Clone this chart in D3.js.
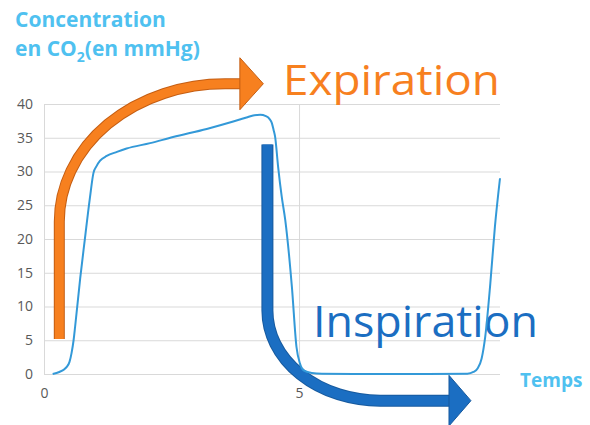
<!DOCTYPE html>
<html>
<head>
<meta charset="utf-8">
<script src="https://cdn.jsdelivr.net/npm/d3@7"></script>
<style>
  html, body { margin: 0; padding: 0; background: #ffffff; }
  svg { display: block; }
</style>
</head>
<body>
<svg id="chart" width="590" height="425"></svg>
<script>
// ---------- data ----------
const time = [0.17, 0.30, 0.40, 0.45, 0.50, 0.54, 0.58, 0.61, 0.71, 0.80, 0.90, 0.97, 1.03, 1.10, 1.23, 1.43, 1.62, 2.08, 2.53, 3.19, 3.71, 3.97, 4.10, 4.24, 4.35, 4.42, 4.46, 4.50, 4.53, 4.59, 4.66, 4.73, 4.86, 4.95, 5.02, 5.10, 5.25, 5.45, 6.50, 7.50, 8.30, 8.42, 8.50, 8.58, 8.65, 8.75, 8.84, 8.94];
const co2  = [0.0, 0.3, 0.7, 1.1, 1.8, 3.1, 5.0, 7.0, 14.2, 19.9, 26.1, 29.8, 30.8, 31.6, 32.3, 32.9, 33.4, 34.2, 35.1, 36.3, 37.4, 38.0, 38.3, 38.4, 38.2, 37.8, 37.3, 36.2, 35.2, 30.7, 26.3, 22.8, 12.9, 4.0, 1.5, 0.5, 0.15, 0.05, 0.0, 0.0, 0.05, 0.3, 0.8, 2.3, 5.5, 13.4, 21.8, 29.0];
const yTicks = [0, 5, 10, 15, 20, 25, 30, 35, 40];
const xTicks = [0, 5];
const xMax = 8.94;
const yMax = 40;

// annotation labels
const titleLine1 = "Concentration";
const titleLine2a = "en CO";
const titleSub = "2";
const titleLine2b = "(en mmHg)";
const xLabel = "Temps";
const expLabel = "Expiration";
const inspLabel = "Inspiration";

// ---------- layout ----------
const svg = d3.select("#chart");
const mLeft = 44, mRight = 500, mTop = 104, mBottom = 374;
const x = d3.scaleLinear().domain([0, xMax]).range([mLeft, mRight]);
const y = d3.scaleLinear().domain([0, yMax]).range([mBottom, mTop]);

const gridColor = "#d9d9d9";
const tickColor = "#595959";
const lineColor = "#3399d8";
const orange = "#f7801f", orangeDark = "#c45d12";
const blue = "#1b6ec2", blueDark = "#175a9e";
const lightBlue = "#4fc1f0";

// gridlines
const gy = svg.append("g").attr("transform", `translate(${mLeft},0)`)
  .call(d3.axisLeft(y).tickValues(yTicks).tickSize(-(mRight - mLeft)).tickFormat(""));
gy.select(".domain").remove();
gy.selectAll("line").attr("stroke", gridColor).attr("stroke-width", 1);

const gx = svg.append("g").attr("transform", `translate(0,${mBottom})`)
  .call(d3.axisBottom(x).tickValues(xTicks).tickSize(-(mBottom - mTop)).tickFormat(""));
gx.select(".domain").remove();
gx.selectAll("line").attr("stroke", gridColor).attr("stroke-width", 1);

// axis labels
const ay = svg.append("g").attr("transform", `translate(${mLeft},0)`)
  .call(d3.axisLeft(y).tickValues(yTicks).tickSize(0).tickPadding(11));
ay.select(".domain").remove();
ay.selectAll("text").attr("fill", tickColor).style("font-family", "'Open Sans', sans-serif").style("font-size", "14px");

const ax = svg.append("g").attr("transform", `translate(0,${mBottom})`)
  .call(d3.axisBottom(x).tickValues(xTicks).tickSize(0).tickPadding(14));
ax.select(".domain").remove();
ax.selectAll("text").attr("fill", tickColor).style("font-family", "'Open Sans', sans-serif").style("font-size", "14px");

// title
const title = svg.append("text").attr("fill", lightBlue)
  .style("font-family", "'Open Sans', sans-serif").style("font-weight", 700).style("font-size", "21px");
title.append("tspan").attr("x", 15).attr("y", 27).text(titleLine1);
const l2 = title.append("tspan").attr("x", 15).attr("y", 56);
l2.text(titleLine2a);
title.append("tspan").attr("dy", 6).style("font-size", "14px").text(titleSub);
title.append("tspan").attr("dy", -6).text(titleLine2b);

svg.append("text").attr("x", 520).attr("y", 387).attr("fill", lightBlue)
  .style("font-family", "'Open Sans', sans-serif").style("font-weight", 700).style("font-size", "19px")
  .text(xLabel);

// big labels
svg.append("text").attr("x", 283).attr("y", 95).attr("fill", orange)
  .attr("textLength", 217).attr("lengthAdjust", "spacingAndGlyphs")
  .style("font-family", "'Open Sans', sans-serif").style("font-size", "42px")
  .text(expLabel);
svg.append("text").attr("x", 313).attr("y", 337).attr("fill", blue)
  .attr("textLength", 225).attr("lengthAdjust", "spacingAndGlyphs")
  .style("font-family", "'Open Sans', sans-serif").style("font-size", "43px")
  .text(inspLabel);

// ---------- arrows (defined in data units) ----------
function drawArrow(spec, fill, stroke) {
  const x0 = x(spec.x0), yStart = y(spec.yStart), yBend = y(spec.yBend);
  const xc = x(spec.xc), yEnd = y(spec.yEnd), xBase = x(spec.xBase), xTip = x(spec.xTip);
  const rx = Math.abs(xc - x0), ry = Math.abs(yEnd - yBend);
  const hh = Math.abs(y(0) - y(spec.headHalf));
  const d = `M${x0},${yStart} L${x0},${yBend} A${rx},${ry} 0 0 ${spec.sweep} ${xc},${yEnd} L${xBase + 2},${yEnd}`;
  svg.append("path").attr("d", d).attr("fill", "none").attr("stroke", stroke).attr("stroke-width", spec.w + 2);
  svg.append("path").attr("d", d).attr("fill", "none").attr("stroke", fill).attr("stroke-width", spec.w);
  svg.append("path")
    .attr("d", `M${xBase},${yEnd - hh} L${xTip},${yEnd} L${xBase},${yEnd + hh} Z`)
    .attr("fill", fill).attr("stroke", stroke).attr("stroke-width", 1).attr("stroke-linejoin", "miter");
}

const expArrow = { x0: 0.30, yStart: 5.2, yBend: 22.6, xc: 3.55, yEnd: 43.0, xBase: 3.84, xTip: 4.30, headHalf: 3.85, w: 9, sweep: 1 };
const inspArrow = { x0: 4.38, yStart: 34.0, yBend: 9.4, xc: 6.59, yEnd: -3.95, xBase: 7.94, xTip: 8.37, headHalf: 3.75, w: 10, sweep: 0 };

drawArrow(expArrow, orange, orangeDark);
drawArrow(inspArrow, blue, blueDark);

// ---------- data line ----------
const pts = time.map((t, i) => [t, co2[i]]);
svg.append("path").datum(pts)
  .attr("fill", "none").attr("stroke", lineColor).attr("stroke-width", 2)
  .attr("d", d3.line().x(d => x(d[0])).y(d => y(d[1])).curve(d3.curveMonotoneX));
</script>
</body>
</html>
